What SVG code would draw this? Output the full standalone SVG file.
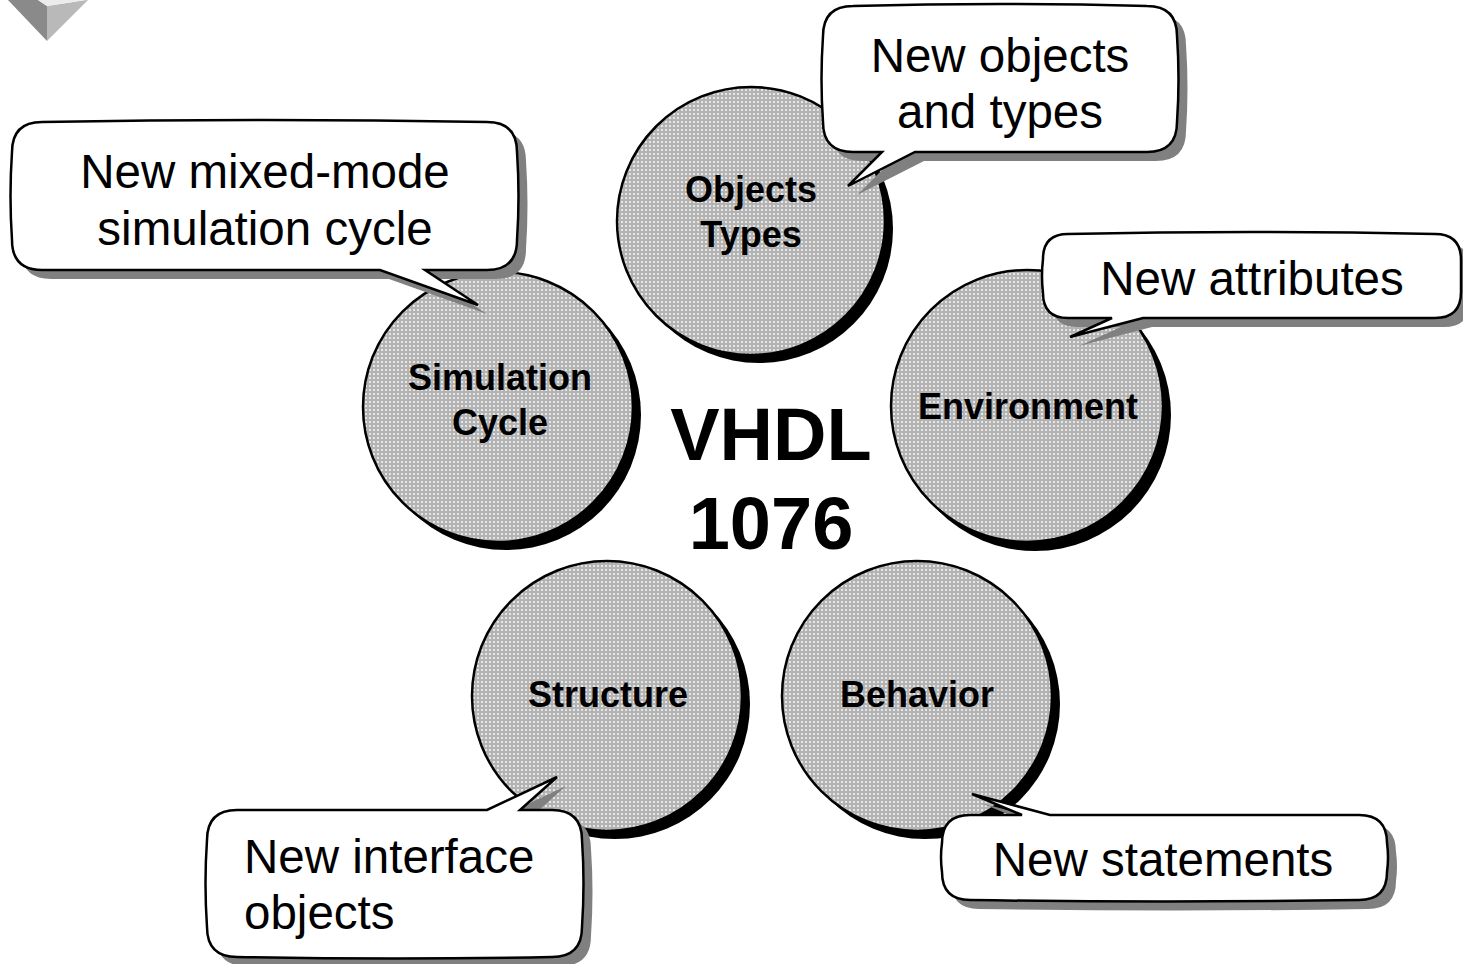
<svg xmlns="http://www.w3.org/2000/svg" xmlns:xlink="http://www.w3.org/1999/xlink" width="1463" height="964" viewBox="0 0 1463 964">
<defs>
<pattern id="dots" width="4" height="4" patternUnits="userSpaceOnUse">
<rect width="4" height="4" fill="#b3b3b3"/>
<rect x="1" y="1" width="2" height="2" fill="#e6e6e6"/>
</pattern>
<path id="cA" d="M42,122 Q265,118 487,122 Q517,122 517,152 Q520,196 517,240 Q517,270 487,270 H425 L478,305 L380,270 H42 Q12,270 12,240 Q9,196 12,152 Q12,122 42,122 Z"/>
<path id="cB" d="M853,6 Q1000,2 1147,6 Q1177,6 1177,36 Q1180,79 1177,122 Q1177,152 1147,152 H915 L848,186 L882,152 H853 Q823,152 823,122 Q820,79 823,36 Q823,6 853,6 Z"/>
<path id="cC" d="M1068,234 Q1250,230 1435,234 Q1461,234 1461,260 V292 Q1461,318 1435,318 H1143 L1070,337 L1112,318 H1068 Q1043,318 1043,293 Q1041,276 1043,259 Q1043,234 1068,234 Z"/>
<path id="cD" d="M237,810 H487 L557,777 L520,810 H552 Q582,810 582,840 Q585,883 582,927 Q582,957 552,957 Q395,960 237,957 Q207,957 207,927 Q204,883 207,840 Q207,810 237,810 Z"/>
<path id="cE" d="M970,815 H1022 L972,794 L1050,815 H1359 Q1387,815 1387,843 Q1389,857 1387,872 Q1387,900 1359,900 Q1165,903 970,900 Q942,900 942,872 Q940,857 942,843 Q942,815 970,815 Z"/>
</defs>
<style>
.cs{fill:#000}
.cf{fill:url(#dots);stroke:#000;stroke-width:2.5}
.lbl{font-family:"Liberation Sans",Arial,sans-serif;font-weight:bold;font-size:36px;text-anchor:middle;fill:#000}
.big{font-family:"Liberation Sans",Arial,sans-serif;font-weight:bold;font-size:74px;text-anchor:middle;fill:#000}
.shd{fill:#808080;stroke:none}
.box{fill:#fff;stroke:#000;stroke-width:2.5;stroke-linejoin:miter}
.ct{font-family:"Liberation Sans",Arial,sans-serif;font-size:47.5px;fill:#000}
.mid{text-anchor:middle}
</style>
<rect width="1463" height="964" fill="#fff"/>
<g id="deco">
<polygon points="8,0 38,0 47,6 47,41" fill="#8a8a8a"/>
<polygon points="47,6 86,0 88,0 47,41" fill="#b9b9b9"/>
<polygon points="38,0 86,0 47,6" fill="#ececec"/>
</g>
<g id="node-objects">
<circle class="cs" cx="759" cy="229" r="134"/>
<circle class="cf" cx="751" cy="221" r="134"/>
<text class="lbl" x="751" y="202">Objects</text>
<text class="lbl" x="751" y="247">Types</text>
</g>
<g id="node-simulation">
<circle class="cs" cx="506" cy="415" r="135"/>
<circle class="cf" cx="498" cy="407" r="135"/>
<text class="lbl" x="500" y="390">Simulation</text>
<text class="lbl" x="500" y="435">Cycle</text>
</g>
<g id="node-environment">
<circle class="cs" cx="1035" cy="415" r="136"/>
<circle class="cf" cx="1027" cy="406" r="136"/>
<text class="lbl" x="1028" y="419">Environment</text>
</g>
<g id="node-structure">
<circle class="cs" cx="615" cy="704" r="135"/>
<circle class="cf" cx="607" cy="696" r="135"/>
<text class="lbl" x="608" y="707">Structure</text>
</g>
<g id="node-behavior">
<circle class="cs" cx="925" cy="704" r="135"/>
<circle class="cf" cx="917" cy="696" r="135"/>
<text class="lbl" x="917" y="707">Behavior</text>
</g>
<g id="node-vhdl">
<text class="big" x="771" y="460">VHDL</text>
<text class="big" x="771" y="549">1076</text>
</g>
<g id="callout-sim">
<use xlink:href="#cA" class="shd" transform="translate(9,9)"/>
<use xlink:href="#cA" class="box"/>
<text class="ct mid" x="265" y="188">New mixed-mode</text>
<text class="ct mid" x="265" y="245">simulation cycle</text>
</g>
<g id="callout-objects">
<use xlink:href="#cB" class="shd" transform="translate(9,9)"/>
<use xlink:href="#cB" class="box"/>
<text class="ct mid" x="1000" y="72">New objects</text>
<text class="ct mid" x="1000" y="128">and types</text>
</g>
<g id="callout-env">
<use xlink:href="#cC" class="shd" transform="translate(9,9)"/>
<use xlink:href="#cC" class="box"/>
<text class="ct mid" x="1252" y="295">New attributes</text>
</g>
<g id="callout-struct">
<use xlink:href="#cD" class="shd" transform="translate(9,9)"/>
<use xlink:href="#cD" class="box"/>
<text class="ct" x="244" y="873">New interface</text>
<text class="ct" x="244" y="929">objects</text>
</g>
<g id="callout-beh">
<use xlink:href="#cE" class="shd" transform="translate(9,9)"/>
<use xlink:href="#cE" class="box"/>
<text class="ct mid" x="1163" y="876">New statements</text>
</g>
</svg>
